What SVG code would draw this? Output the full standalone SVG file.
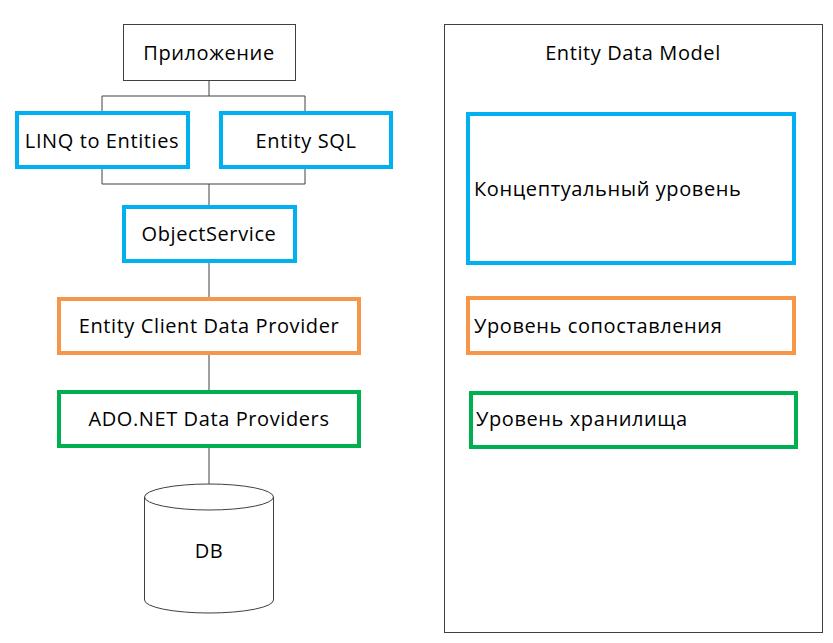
<svg xmlns="http://www.w3.org/2000/svg" width="833" height="643" viewBox="0 0 833 643">
<style>
.t{font-family:"Open Sans","Noto Sans","Liberation Sans",sans-serif;font-size:20px;letter-spacing:0.6px;fill:#000;}
.c{text-anchor:middle;dominant-baseline:central;}
.l{dominant-baseline:central;}
.plain{fill:#fff;stroke:#404040;stroke-width:1;}
.blue{fill:#fff;stroke:#00B0F0;stroke-width:4;}
.orange{fill:#fff;stroke:#F79646;stroke-width:4;}
.green{fill:#fff;stroke:#00B050;stroke-width:4;}
.conn{fill:none;stroke:#404040;stroke-width:1;}
</style>
<rect width="833" height="643" fill="#fff"/>
<g id="connectors">
<path class="conn" d="M209 80 V96 M102 111 V96 H305 V111"/>
<path class="conn" d="M102 168 V184 H305 V168 M209 184 V205"/>
<path class="conn" d="M209 262 V297"/>
<path class="conn" d="M209 354 V390"/>
<path class="conn" d="M209 447 V484"/>
</g>
<g id="app">
<rect class="plain" x="123.5" y="24.5" width="172" height="56"/>
<text class="t c" x="209" y="52">Приложение</text>
</g>
<g id="linq">
<rect class="blue" x="17" y="113" width="171" height="54"/>
<text class="t c" x="102" y="140">LINQ to Entities</text>
</g>
<g id="esql">
<rect class="blue" x="221" y="113" width="170" height="54"/>
<text class="t c" x="306" y="140">Entity SQL</text>
</g>
<g id="objectservice">
<rect class="blue" x="124" y="207" width="171" height="54"/>
<text class="t c" x="209" y="233">ObjectService</text>
</g>
<g id="ecdp">
<rect class="orange" x="59" y="299" width="300" height="54"/>
<text class="t c" x="209" y="325">Entity Client Data Provider</text>
</g>
<g id="ado">
<rect class="green" x="59" y="392" width="300" height="54"/>
<text class="t c" x="209" y="418">ADO.NET Data Providers</text>
</g>
<g id="db">
<path class="plain" d="M144.5 497 A64.5 13 0 0 1 273.5 497 V600 A64.5 13 0 0 1 144.5 600 Z"/>
<path class="conn" d="M144.5 497 A64.5 13 0 0 0 273.5 497"/>
<text class="t c" x="209" y="550">DB</text>
</g>
<g id="edm">
<rect class="plain" x="444.5" y="24.5" width="378" height="608"/>
<text class="t c" x="633" y="52">Entity Data Model</text>
</g>
<g id="conceptual">
<rect class="blue" x="468" y="114" width="326" height="149"/>
<text class="t l" x="474" y="188">Концептуальный уровень</text>
</g>
<g id="mapping">
<rect class="orange" x="468" y="298" width="326" height="55"/>
<text class="t l" x="474" y="325">Уровень сопоставления</text>
</g>
<g id="storage">
<rect class="green" x="471" y="393" width="325" height="54"/>
<text class="t l" x="476" y="418">Уровень хранилища</text>
</g>
</svg>
